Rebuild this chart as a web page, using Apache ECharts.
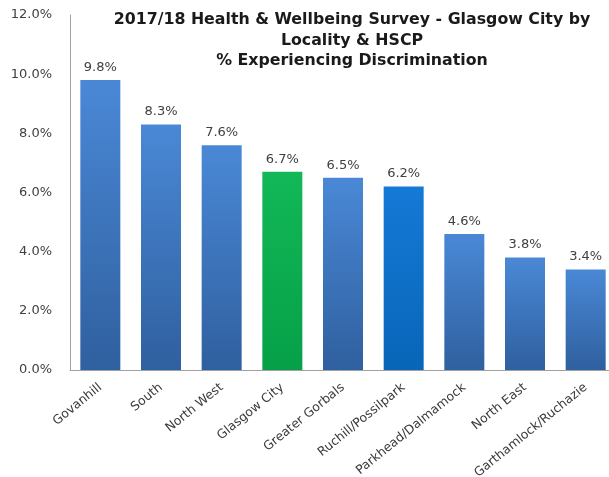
<!DOCTYPE html>
<html>
<head>
<meta charset="utf-8">
<script src="https://cdn.jsdelivr.net/npm/echarts@6/dist/echarts.min.js"></script>
<style>html,body{margin:0;padding:0;background:#fff}#c{width:609px;height:477px}</style>
</head>
<body>
<div id="c"></div>
<script>
const categories = ['Govanhill','South','North West','Glasgow City','Greater Gorbals','Ruchill/Possilpark','Parkhead/Dalmamock','North East','Garthamlock/Ruchazie'];
const values = [9.8, 8.3, 7.6, 6.7, 6.5, 6.2, 4.6, 3.8, 3.4];
const titleLines = ['2017/18 Health & Wellbeing Survey - Glasgow City by', 'Locality & HSCP', '% Experiencing Discrimination'];

function grad(top, bottom) {
  return new echarts.graphic.LinearGradient(0, 0, 0, 1, [
    {offset: 0, color: top}, {offset: 1, color: bottom}
  ]);
}
const blue = grad('#4a88d6', '#2f609f');
const green = grad('#12b857', '#06a048');
const brightBlue = grad('#1579d6', '#0866b8');

const data = values.map((v, i) => {
  let c = blue;
  if (categories[i] === 'Glasgow City') c = green;
  else if (categories[i] === 'Ruchill/Possilpark') c = brightBlue;
  return {value: v, itemStyle: {color: c}};
});

const chart = echarts.init(document.getElementById('c'));
chart.setOption({
  animation: false,
  graphic: titleLines.map((t, i) => ({
    type: 'text', x: 352, y: 20 + i * 20.5,
    style: {text: t, textAlign: 'center', textVerticalAlign: 'middle',
      font: 'bold 15.8px "DejaVu Sans"', fill: '#1a1a1a'}
  })),
  grid: {left: 70, top: 15, width: 546, bottom: 107, containLabel: false, outerBoundsMode: 'none'},
  xAxis: {
    type: 'category', data: categories,
    axisLine: {lineStyle: {color: '#a0a0a0'}},
    axisTick: {show: false},
    axisLabel: {rotate: 39, interval: 0, color: '#3a3a3a', fontFamily: 'DejaVu Sans', fontSize: 12.5, margin: 16}
  },
  yAxis: {
    type: 'value', min: 0, max: 12, interval: 2,
    axisLine: {show: true, lineStyle: {color: '#a0a0a0'}},
    axisTick: {show: false},
    splitLine: {show: false},
    axisLabel: {formatter: v => v.toFixed(1) + '%', color: '#404040', fontFamily: 'DejaVu Sans', fontSize: 13, margin: 18}
  },
  series: [{
    type: 'bar', data: data, barWidth: 40,
    label: {show: true, position: 'top', distance: 6, formatter: p => p.value.toFixed(1) + '%',
      color: '#404040', fontFamily: 'DejaVu Sans', fontSize: 13}
  }]
});
</script>
</body>
</html>
